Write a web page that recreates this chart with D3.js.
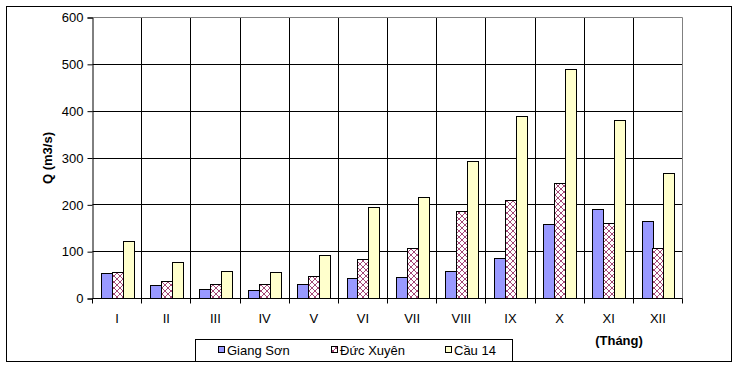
<!DOCTYPE html>
<html>
<head>
<meta charset="utf-8">
<script src="https://cdn.jsdelivr.net/npm/d3@7"></script>
<style>
  html, body { margin: 0; padding: 0; background: #fff; }
  svg { display: block; font-family: "Liberation Sans", Arial, sans-serif; }
</style>
</head>
<body>
<svg id="chart" width="740" height="369"></svg>
<script>
const months = ["I","II","III","IV","V","VI","VII","VIII","IX","X","XI","XII"];
const seriesNames = ["Giang Sơn","Đức Xuyên","Cầu 14"];
const giangSon = [53, 28, 19, 17, 29, 42, 44, 57, 86, 159, 189, 165];
const ducXuyen = [56, 36, 30, 30, 46, 83, 106, 185, 210, 246, 161, 106];
const cau14   = [122, 77, 58, 56, 91, 194, 215, 292, 389, 489, 381, 266];
const yTicks = [0, 100, 200, 300, 400, 500, 600];
const yTitle = "Q (m3/s)";
const xTitle = "(Tháng)";

const seriesValues = [giangSon, ducXuyen, cau14];
const fills = ["#9999FF", "url(#hatch)", "#FFFFCC"];

const svg = d3.select("#chart");
const defs = svg.append("defs");
const pat = defs.append("pattern").attr("id", "hatch").attr("patternUnits", "userSpaceOnUse")
  .attr("width", 6).attr("height", 6);
pat.append("rect").attr("width", 6).attr("height", 6).attr("fill", "#fff");
pat.append("path").attr("d", "M0,0L6,6M6,0L0,6M-1,5L1,7M5,-1L7,1M-1,1L1,-1M5,7L7,5")
  .attr("stroke", "#993366").attr("stroke-width", 0.9).attr("fill", "none");

// outer border
svg.append("rect").attr("x", 6.5).attr("y", 6.5).attr("width", 725).attr("height", 355)
  .attr("fill", "#fff").attr("stroke", "#000").attr("stroke-width", 1);

const pLeft = 92.5, pRight = 682.5, pTop = 17.5, pBottom = 298.5;
const x = d3.scaleBand().domain(months).range([pLeft, pRight]).padding(0);
const xs = d3.scaleBand().domain(seriesNames).range([0, x.bandwidth()]).paddingInner(0).paddingOuter(0.75);
const y = d3.scaleLinear().domain([0, 600]).range([pBottom, pTop]);

// horizontal gridlines
svg.append("g").selectAll("line").data(yTicks.filter(t => t > 0 && t < 600)).join("line")
  .attr("x1", pLeft).attr("x2", pRight)
  .attr("y1", d => Math.floor(y(d)) + 0.5).attr("y2", d => Math.floor(y(d)) + 0.5)
  .attr("stroke", "#000").attr("stroke-width", 1);
// vertical gridlines
svg.append("g").selectAll("line").data(months.slice(1)).join("line")
  .attr("x1", d => Math.floor(x(d)) + 0.5).attr("x2", d => Math.floor(x(d)) + 0.5)
  .attr("y1", pTop).attr("y2", pBottom)
  .attr("stroke", "#000").attr("stroke-width", 1);
// plot border top/right grey
svg.append("path")
  .attr("d", `M${pLeft},${pTop}H${pRight}V${pBottom}`)
  .attr("fill", "none").attr("stroke", "#808080").attr("stroke-width", 1);

// bars
seriesNames.forEach((s, si) => {
  svg.append("g").selectAll("rect").data(months).join("rect")
    .attr("x", (m) => Math.round(x(m) + xs(s)) + 0.5)
    .attr("y", (m, i) => Math.floor(y(seriesValues[si][i])) + 0.5)
    .attr("width", Math.round(xs.bandwidth()))
    .attr("height", (m, i) => Math.floor(pBottom) - Math.floor(y(seriesValues[si][i])))
    .attr("fill", fills[si])
    .attr("stroke", "#000").attr("stroke-width", 1);
});

// y axis
const yAxis = d3.axisLeft(y).tickValues(yTicks).tickSize(5).tickPadding(4).tickFormat(d3.format("d"));
const yg = svg.append("g").attr("transform", `translate(${pLeft},0)`).call(yAxis);
yg.select(".domain").attr("stroke", "#000");
yg.selectAll(".tick line").attr("stroke", "#000");
yg.selectAll("text").attr("font-size", 13).attr("fill", "#000")
  .attr("font-family", "Liberation Sans, Arial, sans-serif");

// x axis
const xg = svg.append("g").attr("transform", `translate(0,${pBottom})`);
xg.append("line").attr("x1", pLeft).attr("x2", pRight).attr("y1", 0).attr("y2", 0).attr("stroke", "#000");
xg.selectAll("line.tk").data(months.concat(["end"])).join("line").attr("class", "tk")
  .attr("x1", (d, i) => Math.floor(pLeft + i * x.bandwidth()) + 0.5)
  .attr("x2", (d, i) => Math.floor(pLeft + i * x.bandwidth()) + 0.5)
  .attr("y1", 0).attr("y2", 5).attr("stroke", "#000");
xg.selectAll("text").data(months).join("text")
  .attr("x", d => x(d) + x.bandwidth() / 2)
  .attr("y", 24)
  .attr("text-anchor", "middle")
  .attr("font-size", 13).attr("fill", "#000")
  .text(d => d);

// axis titles
svg.append("text").attr("transform", `translate(52,${(pTop + pBottom) / 2}) rotate(-90)`)
  .attr("text-anchor", "middle").attr("font-size", 13).attr("font-weight", "bold").text(yTitle);
svg.append("text").attr("x", 619).attr("y", 345)
  .attr("text-anchor", "middle").attr("font-size", 13).attr("font-weight", "bold").text(xTitle);

// legend
const lg = svg.append("g");
lg.append("rect").attr("x", 195.5).attr("y", 339.5).attr("width", 317).attr("height", 22)
  .attr("fill", "#fff").attr("stroke", "#000");
const legX = [218, 331, 445];
seriesNames.forEach((s, i) => {
  lg.append("rect").attr("x", legX[i] + 0.5).attr("y", 346.5).attr("width", 6).attr("height", 6)
    .attr("fill", fills[i]).attr("stroke", "#000");
  lg.append("text").attr("x", legX[i] + 9).attr("y", 355).attr("font-size", 13).attr("fill", "#000").text(s);
});
</script>
</body>
</html>
